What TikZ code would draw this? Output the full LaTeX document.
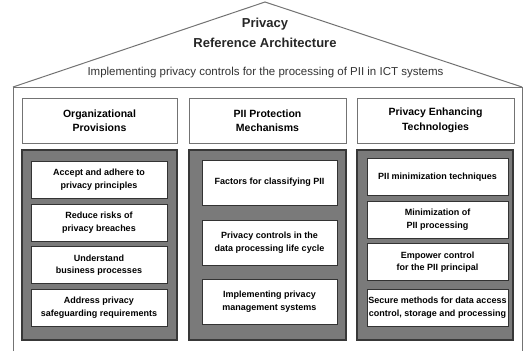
\documentclass[tikz,border=0pt]{standalone}
\usepackage{fontspec}
\setmainfont{Liberation Sans}
\begin{document}
\begin{tikzpicture}[x=1pt,y=-1pt,
    head/.style={draw=black!55,fill=white,line width=0.8pt,minimum height=45pt,
      align=center,inner sep=1pt,font=\fontsize{10.5}{14.5}\selectfont\bfseries},
    panel/.style={draw=black!78,fill=black!52,line width=1.6pt,minimum height=190pt,inner sep=0pt},
    item/.style={draw=black!80,fill=white,line width=0.7pt,align=center,inner sep=1pt,
      font=\fontsize{9}{12.5}\selectfont\bfseries}]
  \useasboundingbox (0,0) rectangle (525,351);
  \begin{scope}[draw=black!55,line width=1pt]
    \draw (13,87) -- (265,2) -- (522,87);
    \draw (13,351) -- (13,87) -- (522,87) -- (522,351);
  \end{scope}
  \node[font=\fontsize{13}{19.5}\selectfont\bfseries,align=center,text=black!85] (title) at (265,33)
    {Privacy\\Reference Architecture};
  \node[font=\fontsize{11.5}{14}\selectfont,text=black!80] (sub) at (265.5,73)
    {Implementing privacy controls for the processing of PII in ICT systems};
  \node[head,minimum width=155pt] (org) at (99.5,120.5) {Organizational\\Provisions};
  \node[head,minimum width=157pt] (pii) at (267.5,120.5) {PII Protection\\Mechanisms};
  \node[head,minimum width=157pt] (pet) at (435.5,120.5) {Privacy Enhancing\\Technologies};
  \node[panel,minimum width=155pt] (orgpanel) at (99.5,245) {};
  \node[panel,minimum width=157pt] (piipanel) at (267.5,245) {};
  \node[panel,minimum width=156pt] (petpanel) at (435,245) {};
  \begin{scope}[every node/.append style={item,minimum width=136pt,minimum height=37pt}]
    \node (org1) at (99,179.5) {Accept and adhere to\\privacy principles};
    \node (org2) at (99,222.5) {Reduce risks of\\privacy breaches};
    \node (org3) at (99,265) {Understand\\business processes};
    \node (org4) at (99,307.5) {Address privacy\\safeguarding requirements};
  \end{scope}
  \begin{scope}[every node/.append style={item,minimum width=135pt,minimum height=45pt}]
    \node (pii1) at (269.5,182.5) {Factors for classifying PII};
    \node (pii2) at (269.5,242.5) {Privacy controls in the\\data processing life cycle};
    \node (pii3) at (269.5,301.5) {Implementing privacy\\management systems};
  \end{scope}
  \begin{scope}[every node/.append style={item,minimum width=141pt,minimum height=37pt}]
    \node (pet1) at (437.5,177) {PII minimization techniques};
    \node (pet2) at (437.5,219.5) {Minimization of\\PII processing};
    \node (pet3) at (437.5,262) {Empower control\\for the PII principal};
    \node (pet4) at (437.5,307.5) {Secure methods for data access\\control, storage and processing};
  \end{scope}
\end{tikzpicture}
\end{document}
